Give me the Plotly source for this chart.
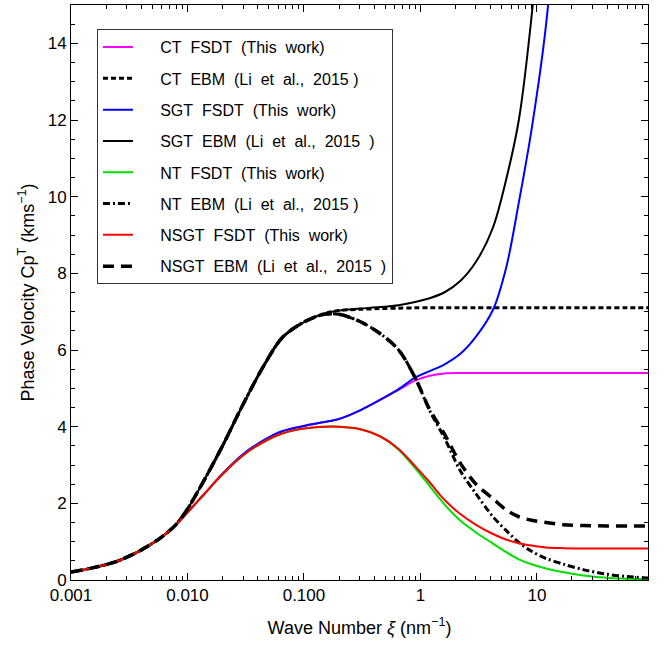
import plotly.graph_objects as go

# Wave number grid (nm^-1)
xi = [0.001, 0.0015, 0.0025, 0.004, 0.006, 0.008, 0.010, 0.014, 0.02, 0.03, 0.045, 0.065,
      0.1, 0.15, 0.2, 0.3, 0.45, 0.65, 0.9, 1.2, 1.6, 2.2, 3.0, 4.2, 5.5, 7, 9, 12, 17, 25, 40, 60, 90]

low = [0.21, 0.31, 0.49, 0.78, 1.12, 1.45]  # common to all curves (xi <= 0.008)

ebm_rise = [1.85, 2.62, 3.50, 4.58, 5.58, 6.32, 6.73, 6.95]          # 0.010 .. 0.15
fsdt_rise = [1.76, 2.25, 2.76, 3.25, 3.60, 3.82, 3.95, 4.00]          # 0.010 .. 0.15

ct_ebm = low + ebm_rise + [7.03, 7.06, 7.08, 7.09, 7.10, 7.10, 7.10, 7.10, 7.10, 7.10, 7.10, 7.10,
                           7.10, 7.10, 7.10, 7.10, 7.10, 7.10, 7.10]
sgt_ebm = low + ebm_rise + [7.03, 7.08, 7.12, 7.17, 7.25, 7.35, 7.50, 7.80, 8.30, 9.20, 10.5, 12.0,
                            14.7, 19.0, 25.0, 33.0, 45.0, 60.0, 80.0]
nt_ebm = low + ebm_rise[:-1] + [6.93, 6.93, 6.75, 6.43, 6.00, 5.28, 4.42, 3.72, 2.85, 2.25, 1.65, 1.28,
                                0.98, 0.75, 0.56, 0.41, 0.27, 0.15, 0.09, 0.05]
nsgt_ebm = low + ebm_rise[:-1] + [6.93, 6.93, 6.75, 6.43, 6.00, 5.28, 4.45, 3.82, 3.05, 2.50, 2.12, 1.82,
                                  1.65, 1.56, 1.50, 1.44, 1.42, 1.41, 1.41, 1.41]

ct_fsdt = low + [1.76, 2.25, 2.77, 3.28, 3.64, 3.88, 4.02, 4.12, 4.20, 4.42, 4.70, 4.96, 5.20, 5.33,
                 5.39, 5.40, 5.40, 5.40, 5.40, 5.40, 5.40, 5.40, 5.40, 5.40, 5.40, 5.40, 5.40]
sgt_fsdt = low + [1.76, 2.25, 2.77, 3.28, 3.64, 3.88, 4.02, 4.12, 4.20, 4.42, 4.70, 4.98, 5.28, 5.45,
                  5.62, 5.90, 6.35, 7.05, 8.20, 9.85, 11.75, 14.5, 20.0, 28.0, 40.0, 55.0, 75.0]
nt_fsdt = low + fsdt_rise + [4.00, 3.94, 3.75, 3.40, 2.92, 2.45, 1.98, 1.55, 1.24, 0.95, 0.72, 0.54,
                             0.41, 0.30, 0.20, 0.12, 0.06, 0.03, 0.02]
nsgt_fsdt = low + fsdt_rise + [4.00, 3.94, 3.75, 3.42, 2.97, 2.55, 2.10, 1.72, 1.44, 1.20, 1.05, 0.96,
                               0.90, 0.85, 0.83, 0.82, 0.82, 0.82, 0.82]

S = "\u00a0 "
P = "\u00a0\u00a0\u00a0\u00a0 "
names = [P + "CT" + S + "FSDT" + S + "(This" + S + "work)",
         P + "CT" + S + "EBM" + S + "(Li" + S + "et" + S + "al.," + S + "2015 )",
         P + "SGT" + S + "FSDT" + S + "(This" + S + "work)",
         P + "SGT" + S + "EBM" + S + "(Li" + S + "et" + S + "al.," + S + "2015" + S + ")",
         P + "NT" + S + "FSDT" + S + "(This" + S + "work)",
         P + "NT" + S + "EBM" + S + "(Li" + S + "et" + S + "al.," + S + "2015 )",
         P + "NSGT" + S + "FSDT" + S + "(This" + S + "work)",
         P + "NSGT" + S + "EBM" + S + "(Li" + S + "et" + S + "al.," + S + "2015" + S + ")"]
series = [ct_fsdt, ct_ebm, sgt_fsdt, sgt_ebm, nt_fsdt, nt_ebm, nsgt_fsdt, nsgt_ebm]
styles = [
    dict(color="#ff00ff", width=2, dash="solid"),
    dict(color="black", width=3, dash="5px,3px"),
    dict(color="#0000ff", width=2, dash="solid"),
    dict(color="black", width=2, dash="solid"),
    dict(color="#00e000", width=2, dash="solid"),
    dict(color="black", width=3, dash="7px,3px,2px,3px"),
    dict(color="#ff0000", width=2, dash="solid"),
    dict(color="black", width=3.5, dash="11px,7px"),
]

fig = go.Figure()
for i, (nm, ys, st) in enumerate(zip(names, series, styles)):
    fig.add_trace(go.Scatter(x=xi, y=ys, mode="lines", name=nm, legendgroup=str(i),
                             line=dict(shape="spline", smoothing=0.9, **st)))

fig.update_layout(
    width=665, height=646,
    margin=dict(l=71, r=17, t=5, b=66),
    plot_bgcolor="white", paper_bgcolor="white",
    font=dict(family="Liberation Sans, Arial, sans-serif", color="black", size=15),
    showlegend=True,
    legend=dict(x=0.045, y=0.958, xanchor="left", yanchor="top",
                bgcolor="white", bordercolor="#333333", borderwidth=1,
                font=dict(size=16, color="black"), tracegroupgap=7.5),
)
fig.update_xaxes(
    type="log", range=[-3, 1.954],
    tickvals=[0.001, 0.01, 0.1, 1, 10], ticktext=["0.001", "0.010", "0.100", "1", "10"],
    ticks="inside", ticklen=7, tickcolor="black", mirror="allticks",
    showline=True, linecolor="black", linewidth=1, showgrid=False, zeroline=False,
    minor=dict(ticks="inside", ticklen=4, tickcolor="black", dtick="D1", showgrid=False),
    tickfont=dict(size=17),
    title=dict(text="Wave Number <i>ξ</i> (nm<sup>−1</sup>)", font=dict(size=18), standoff=16),
)
fig.update_yaxes(
    range=[0, 15], dtick=2, tick0=0,
    ticks="inside", ticklen=7, tickcolor="black", mirror="allticks",
    showline=True, linecolor="black", linewidth=1, showgrid=False, zeroline=False,
    minor=dict(ticks="inside", ticklen=4, tickcolor="black", dtick=0.5, showgrid=False),
    tickfont=dict(size=17),
    title=dict(text="Phase Velocity Cp<sup>T</sup> (kms<sup>−1</sup>)", font=dict(size=18), standoff=8),
)

fig.write_html("out.html", config={"displayModeBar": False},
               post_script="document.body.style.margin='0px';")
